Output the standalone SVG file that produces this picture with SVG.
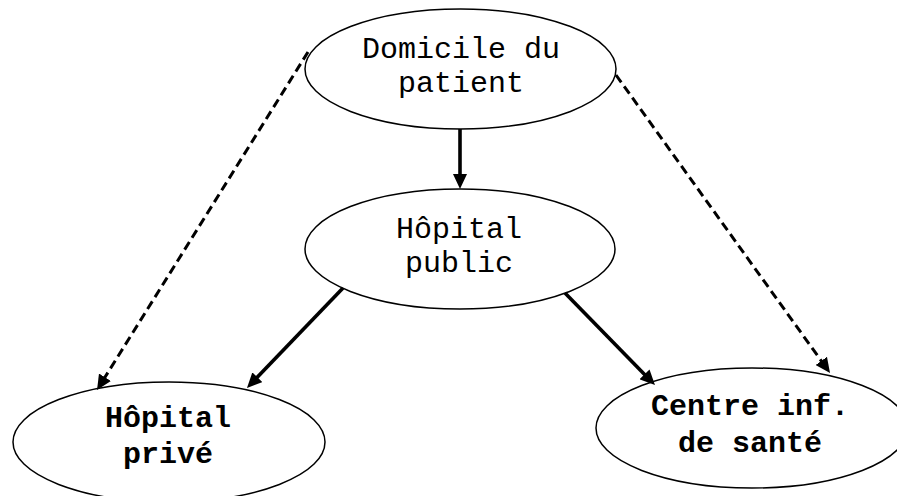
<svg xmlns="http://www.w3.org/2000/svg" width="897" height="496" viewBox="0 0 897 496">
<style>
.node ellipse{fill:#fff;stroke:#000;stroke-width:1.5}
.t{font-family:"Liberation Mono","Courier New",monospace;font-size:30px;fill:#000;text-anchor:middle}
.b{font-weight:bold}
.c line{stroke:#000;stroke-width:3.6}
.c .d{stroke-dasharray:9 5;stroke-width:3}
</style>
<defs>
<marker id="ah" markerUnits="userSpaceOnUse" markerWidth="15" markerHeight="14" refX="5" refY="7" orient="auto">
<path d="M0,0 L15,7 L0,14 z" fill="#000"/>
</marker>
</defs>
<rect width="897" height="496" fill="#fff"/>
<g id="n-domicile" class="node">
<ellipse cx="460.5" cy="69" rx="155.5" ry="60"/>
<text class="t" x="461" y="58">Domicile du</text>
<text class="t" x="461" y="92">patient</text>
</g>
<g id="n-public" class="node">
<ellipse cx="460" cy="249" rx="155" ry="60"/>
<text class="t" x="459" y="238">Hôpital</text>
<text class="t" x="459" y="272">public</text>
</g>
<g id="n-prive" class="node">
<ellipse cx="169" cy="442" rx="156" ry="60"/>
<text class="t b" x="168" y="427">Hôpital</text>
<text class="t b" x="168" y="463">privé</text>
</g>
<g id="n-centre" class="node">
<ellipse cx="752" cy="428" rx="156" ry="60"/>
<text class="t b" x="750" y="415">Centre inf.</text>
<text class="t b" x="750" y="452">de santé</text>
</g>
<g id="connectors" class="c">
<line x1="460" y1="129" x2="460" y2="179" marker-end="url(#ah)"/>
<line x1="343" y1="288" x2="253.9" y2="380.8" marker-end="url(#ah)"/>
<line x1="565" y1="293" x2="648" y2="377.9" marker-end="url(#ah)"/>
<line class="d" x1="308" y1="52" x2="102.3" y2="381.5" marker-end="url(#ah)"/>
<line class="d" x1="616" y1="75" x2="824.2" y2="364.9" marker-end="url(#ah)"/>
</g>
</svg>
